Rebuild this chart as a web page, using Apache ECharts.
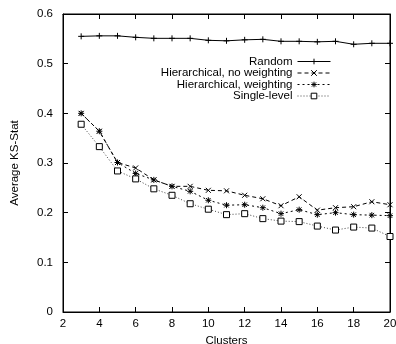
<!DOCTYPE html>
<html>
<head>
<meta charset="utf-8">
<script src="https://cdn.jsdelivr.net/npm/echarts@6/dist/echarts.min.js"></script>
<style>html,body{margin:0;padding:0;background:#fff;overflow:hidden}#c{width:396px;height:344px}</style>
</head>
<body>
<div id="c"></div>
<script>
var clusters = [3,4,5,6,7,8,9,10,11,12,13,14,15,16,17,18,19,20];
var randomVals = [0.555,0.556,0.556,0.553,0.551,0.551,0.551,0.547,0.546,0.548,0.549,0.545,0.545,0.544,0.545,0.539,0.541,0.541];
var hierNoW = [0.400,0.364,0.301,0.290,0.266,0.253,0.253,0.245,0.244,0.235,0.228,0.214,0.232,0.205,0.210,0.212,0.222,0.216];
var hierW = [0.400,0.364,0.301,0.279,0.266,0.253,0.243,0.225,0.215,0.216,0.210,0.198,0.206,0.196,0.200,0.196,0.195,0.194];
var single = [0.378,0.333,0.284,0.268,0.248,0.235,0.218,0.207,0.196,0.198,0.188,0.183,0.182,0.173,0.165,0.171,0.169,0.152];
var names = ['Random','Hierarchical, no weighting','Hierarchical, weighting','Single-level'];
var xTicks = [2,20,2];
var yTicks = [0,0.6,0.1];

function pairs(v){ return clusters.map(function(c,i){ return [c, v[i]]; }); }

var plus = 'path://M0,-1L0,1M-1,0L1,0';
var cross = 'path://M-1,-1L1,1M-1,1L1,-1';
var star = 'path://M0,-1L0,1M-1,0L1,0M-0.75,-0.75L0.75,0.75M-0.75,0.75L0.75,-0.75';
var font = 'Liberation Sans';

function mk(name, data, symbol, size, lineType, color, fill, xi, yi){
  return {
    name: name, type: 'line', data: pairs(data), symbol: symbol, symbolSize: size,
    xAxisIndex: xi, yAxisIndex: yi,
    lineStyle: {color: color, width: 1, type: lineType},
    itemStyle: {color: fill, borderColor: '#000', borderWidth: 1},
    emphasis: {disabled: true}, animation: false
  };
}

function leg(name, top){
  return {
    data: [name], right: 65, top: top, align: 'right', orient: 'vertical',
    itemWidth: 33, itemHeight: 7, padding: 0, itemGap: 0, selectedMode: false,
    lineStyle: {width: 1},
    itemStyle: {borderWidth: 1},
    textStyle: {fontFamily: font, fontSize: 11.5, color: '#000'}
  };
}

function axisCommon(t){
  return {
    type: 'value', min: t[0], max: t[1], interval: t[2],
    axisLine: {show: true, onZero: false, lineStyle: {color: '#000', width: 1}},
    axisTick: {show: true, inside: true, length: 5, lineStyle: {color: '#000', width: 1}},
    splitLine: {show: false}
  };
}

var xBottom = axisCommon(xTicks);
xBottom.position = 'bottom';
xBottom.name = 'Clusters'; xBottom.nameLocation = 'middle'; xBottom.nameGap = 21;
xBottom.nameTextStyle = {fontFamily: font, fontSize: 11.5, color: '#000'};
xBottom.axisLabel = {fontFamily: font, fontSize: 11.5, color: '#000', margin: 6};

var xTop = axisCommon(xTicks);
xTop.position = 'top';
xTop.axisLabel = {show: false};

var yLeft = axisCommon(yTicks);
yLeft.position = 'left';
yLeft.name = 'Average KS-Stat'; yLeft.nameLocation = 'middle'; yLeft.nameGap = 42;
yLeft.nameTextStyle = {fontFamily: font, fontSize: 11.5, color: '#000'};
yLeft.axisLabel = {fontFamily: font, fontSize: 11.5, color: '#000', margin: 10,
  formatter: function(v){ return v === 0 ? '0' : v.toFixed(1); }};

var yRight = axisCommon(yTicks);
yRight.position = 'right';
yRight.axisLabel = {show: false};

var chart = echarts.init(document.getElementById('c'), null, {renderer: 'canvas', width: 396, height: 344});
chart.setOption({
  backgroundColor: '#fff',
  animation: false,
  grid: {left: 63, right: 6, top: 14, bottom: 32, containLabel: false, outerBoundsMode: 'none',
    show: true, borderColor: '#000', borderWidth: 1, backgroundColor: 'transparent'},
  legend: [leg(names[0], 55.5), leg(names[1], 67), leg(names[2], 78.5), leg(names[3], 90)],
  xAxis: [xBottom, xTop],
  yAxis: [yLeft, yRight],
  series: [
    mk(names[0], randomVals, plus, 6, 'solid', '#000', 'none', 1, 1),
    mk(names[1], hierNoW, cross, 5, [4,3], '#000', 'none', 0, 0),
    mk(names[2], hierW, star, 6, [2,3], '#000', 'none', 0, 0),
    mk(names[3], single, 'rect', 6, [1,2], '#444', '#fff', 0, 0)
  ]
});
</script>
</body>
</html>
